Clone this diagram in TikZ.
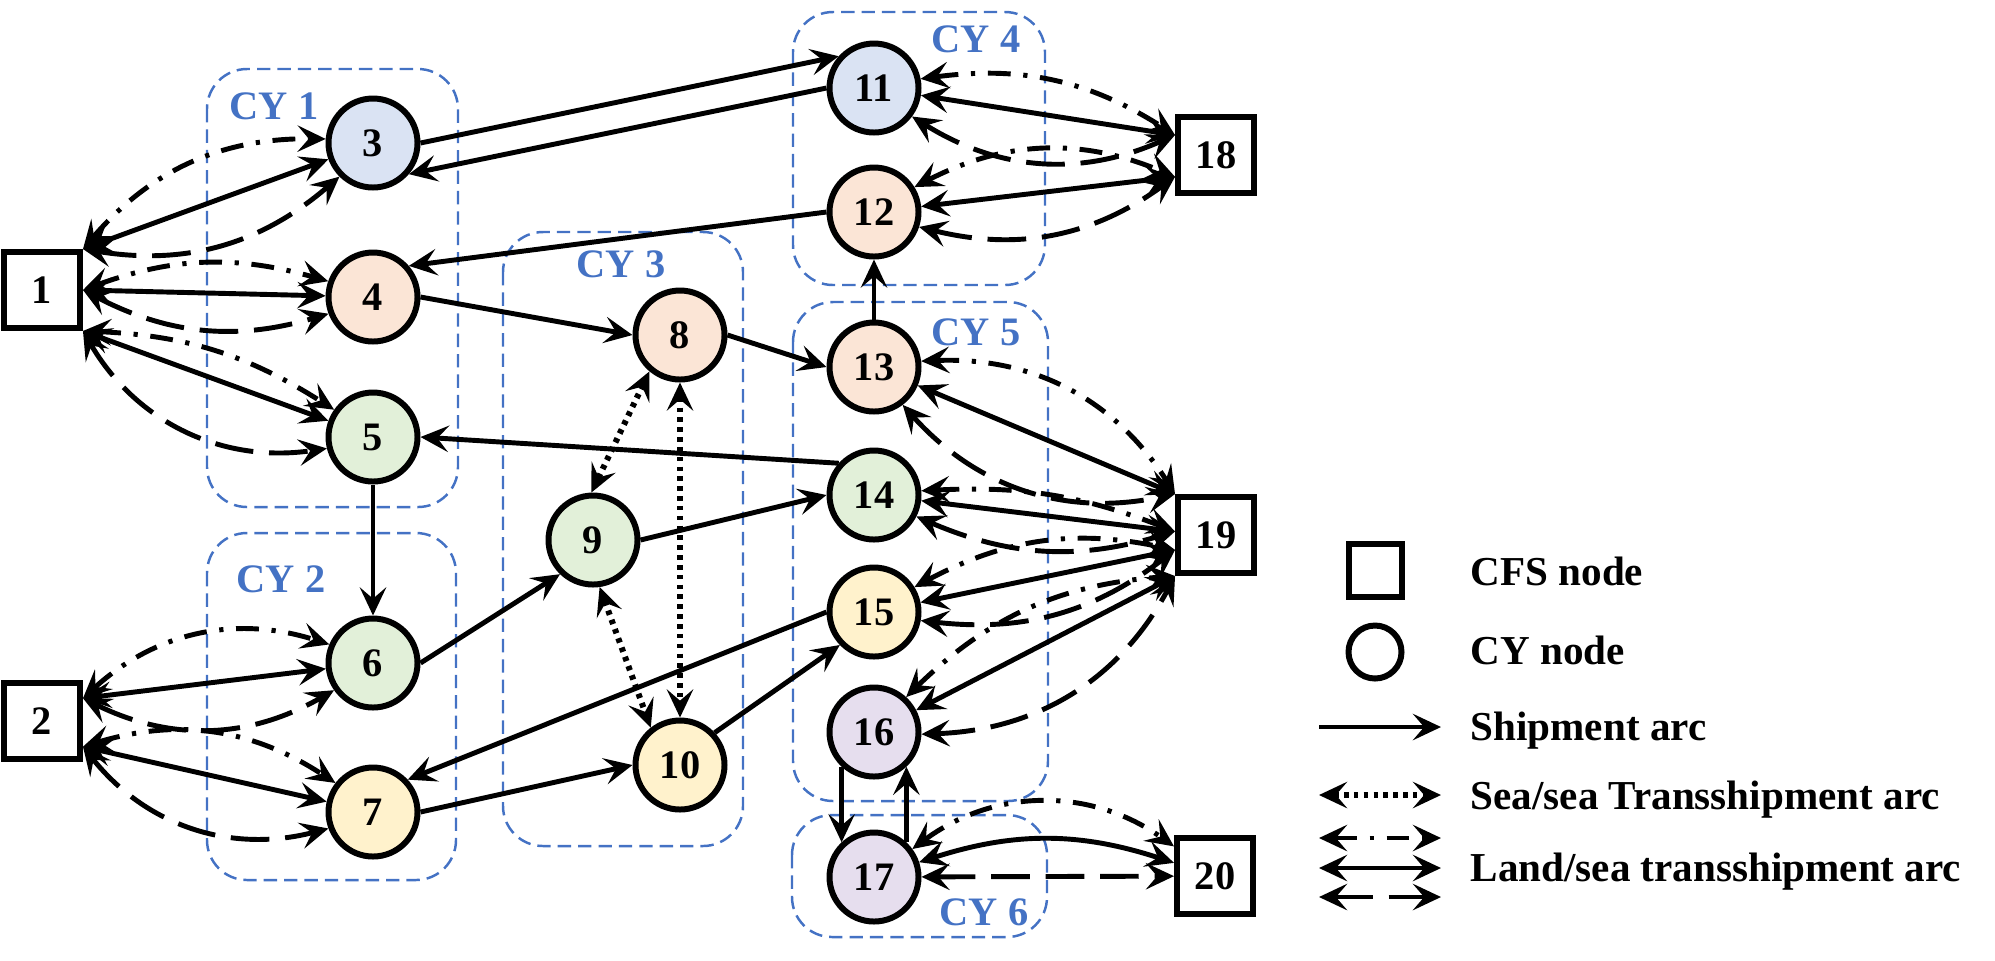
\documentclass[tikz,border=0pt]{standalone}
\usepackage{fontspec}
\setmainfont{Liberation Serif}
\usetikzlibrary{arrows.meta}

\definecolor{cyblue}{HTML}{4472C4}
\definecolor{fblue}{HTML}{DAE3F3}
\definecolor{forange}{HTML}{FBE5D6}
\definecolor{fgreen}{HTML}{E2F0D9}
\definecolor{fyellow}{HTML}{FFF2CC}
\definecolor{fpurple}{HTML}{E6DEEE}

\newcommand{\nodefont}{\bfseries\fontsize{11.5pt}{13pt}\selectfont}

\tikzset{
  >={Stealth[length=8pt,width=7.5pt,inset=3.2pt]},
  cfs/.style={draw, line width=1.7pt, minimum size=0.76cm, inner sep=0pt, font=\nodefont},
  yard/.style={circle, draw, line width=1.7pt, minimum size=0.89cm, inner sep=0pt, font=\nodefont},
  cybox/.style={draw=cyblue, line width=0.7pt, dash pattern=on 3.8pt off 2pt, rounded corners=0.4cm},
  cylabel/.style={text=cyblue, font=\nodefont},
  shiparc/.style={->, line width=1.4pt},
  seaarc/.style={<->, line width=1.7pt, dash pattern=on 1.3pt off 1.5pt},
  ddarc/.style={<->, line width=1.4pt, dash pattern=on 6.5pt off 3.6pt on 1.2pt off 3.6pt},
  soarc/.style={<->, line width=1.4pt},
  daarc/.style={<->, line width=1.4pt, dash pattern=on 11pt off 4.5pt},
  legtext/.style={anchor=base west, inner sep=0pt, font=\bfseries\fontsize{11.7pt}{14pt}\selectfont}
}

\begin{document}
\begin{tikzpicture}

\useasboundingbox (0,0) rectangle (19.95,-9.60);

% CY groups
\draw[cybox] (2.07,-0.69) rectangle (4.58,-5.07);
\draw[cybox] (2.07,-5.33) rectangle (4.56,-8.80);
\draw[cybox] (5.03,-2.32) rectangle (7.43,-8.46);
\draw[cybox] (7.93,-0.12) rectangle (10.45,-2.85);
\draw[cybox] (7.93,-3.02) rectangle (10.48,-8.01);
\draw[cybox] (7.92,-8.15) rectangle (10.47,-9.37);

\node[cylabel] (cy1) at (2.74,-1.06) {CY 1};
\node[cylabel] (cy2) at (2.81,-5.79) {CY 2};
\node[cylabel] (cy3) at (6.21,-2.64) {CY 3};
\node[cylabel] (cy4) at (9.76,-0.39) {CY 4};
\node[cylabel] (cy5) at (9.76,-3.32) {CY 5};
\node[cylabel] (cy6) at (9.84,-9.12) {CY 6};

% CFS nodes
\node[cfs] (1) at (0.42,-2.90) {1};
\node[cfs] (2) at (0.42,-7.21) {2};
\node[cfs] (18) at (12.16,-1.55) {18};
\node[cfs] (19) at (12.16,-5.35) {19};
\node[cfs] (20) at (12.15,-8.76) {20};

% CY nodes
\node[yard, fill=fblue] (3) at (3.73,-1.43) {3};
\node[yard, fill=forange] (4) at (3.73,-2.97) {4};
\node[yard, fill=fgreen] (5) at (3.73,-4.37) {5};
\node[yard, fill=fgreen] (6) at (3.73,-6.63) {6};
\node[yard, fill=fyellow] (7) at (3.73,-8.12) {7};
\node[yard, fill=forange] (8) at (6.80,-3.35) {8};
\node[yard, fill=fgreen] (9) at (5.93,-5.40) {9};
\node[yard, fill=fyellow] (10) at (6.80,-7.65) {10};
\node[yard, fill=fblue] (11) at (8.74,-0.88) {11};
\node[yard, fill=forange] (12) at (8.74,-2.12) {12};
\node[yard, fill=forange] (13) at (8.74,-3.67) {13};
\node[yard, fill=fgreen] (14) at (8.74,-4.95) {14};
\node[yard, fill=fyellow] (15) at (8.74,-6.12) {15};
\node[yard, fill=fpurple] (16) at (8.74,-7.32) {16};
\node[yard, fill=fpurple] (17) at (8.74,-8.77) {17};

% shipment arcs
\draw[shiparc] (3.east) -- (11.138);
\draw[shiparc] (11.west) -- (3.-41);
\draw[shiparc] (12.west) -- (4.41);
\draw[shiparc] (4.east) -- (8.west);
\draw[shiparc] (8.east) -- (13.west);
\draw[shiparc] (13.north) -- (12.south);
\draw[shiparc] (14.138) -- (5.east);
\draw[shiparc] (5.south) -- (6.north);
\draw[shiparc] (6.east) -- (9.-134);
\draw[shiparc] (9.east) -- (14.west);
\draw[shiparc] (7.east) -- (10.west);
\draw[shiparc] (15.west) -- (7.43);
\draw[shiparc] (10.43) -- (15.-136);
\draw[shiparc] (16.-133) -- (17.133);
\draw[shiparc] (17.47) -- (16.-47);

% sea/sea transshipment
\draw[seaarc] (8.230) -- (9.92);
\draw[seaarc] (8.south) -- (10.north);
\draw[seaarc] (9.-82) -- (10.128);

% land/sea transshipment
\foreach \a/\b/\l/\r in {1.north east/3/25/25, 1.east/4/18/22, 1.south east/5/15/34,
    2.29/6/30/28, 2.-32/7/25/33, 11/18.154/20/28, 12/18.208/25/25,
    13/19.north west/30/30, 14/19.175/12/20, 15/19.200/20/22, 16/19.south west/20/30} {
  \draw[ddarc] (\a) to[bend left=\l] (\b);
  \draw[soarc] (\a) -- (\b);
  \draw[daarc] (\a) to[bend right=\r] (\b);
}
\draw[ddarc] (17) to[bend left=36] (20);
\draw[soarc] (17) to[bend left=18] (20);
\draw[daarc] (17) -- (20);

% legend
\node[cfs, minimum size=0.53cm] (lcfs) at (13.75,-5.70) {};
\node[yard, minimum size=0.53cm] (lcy) at (13.75,-6.52) {};
\foreach \n/\y/\st in {la/7.27/shiparc, lb/7.95/seaarc, lc/8.38/ddarc, ld/8.68/soarc, le/8.97/daarc} {
  \coordinate (\n0) at (13.19,-\y);
  \coordinate (\n1) at (14.41,-\y);
  \draw[\st] (\n0) -- (\n1);
}
\node[legtext] (tcfs) at (14.70,-5.85) {CFS node};
\node[legtext] (tcy) at (14.70,-6.64) {CY node};
\node[legtext] (tship) at (14.70,-7.40) {Shipment arc};
\node[legtext] (tsea) at (14.70,-8.09) {Sea/sea Transshipment arc};
\node[legtext] (tland) at (14.70,-8.81) {Land/sea transshipment arc};

\end{tikzpicture}
\end{document}
